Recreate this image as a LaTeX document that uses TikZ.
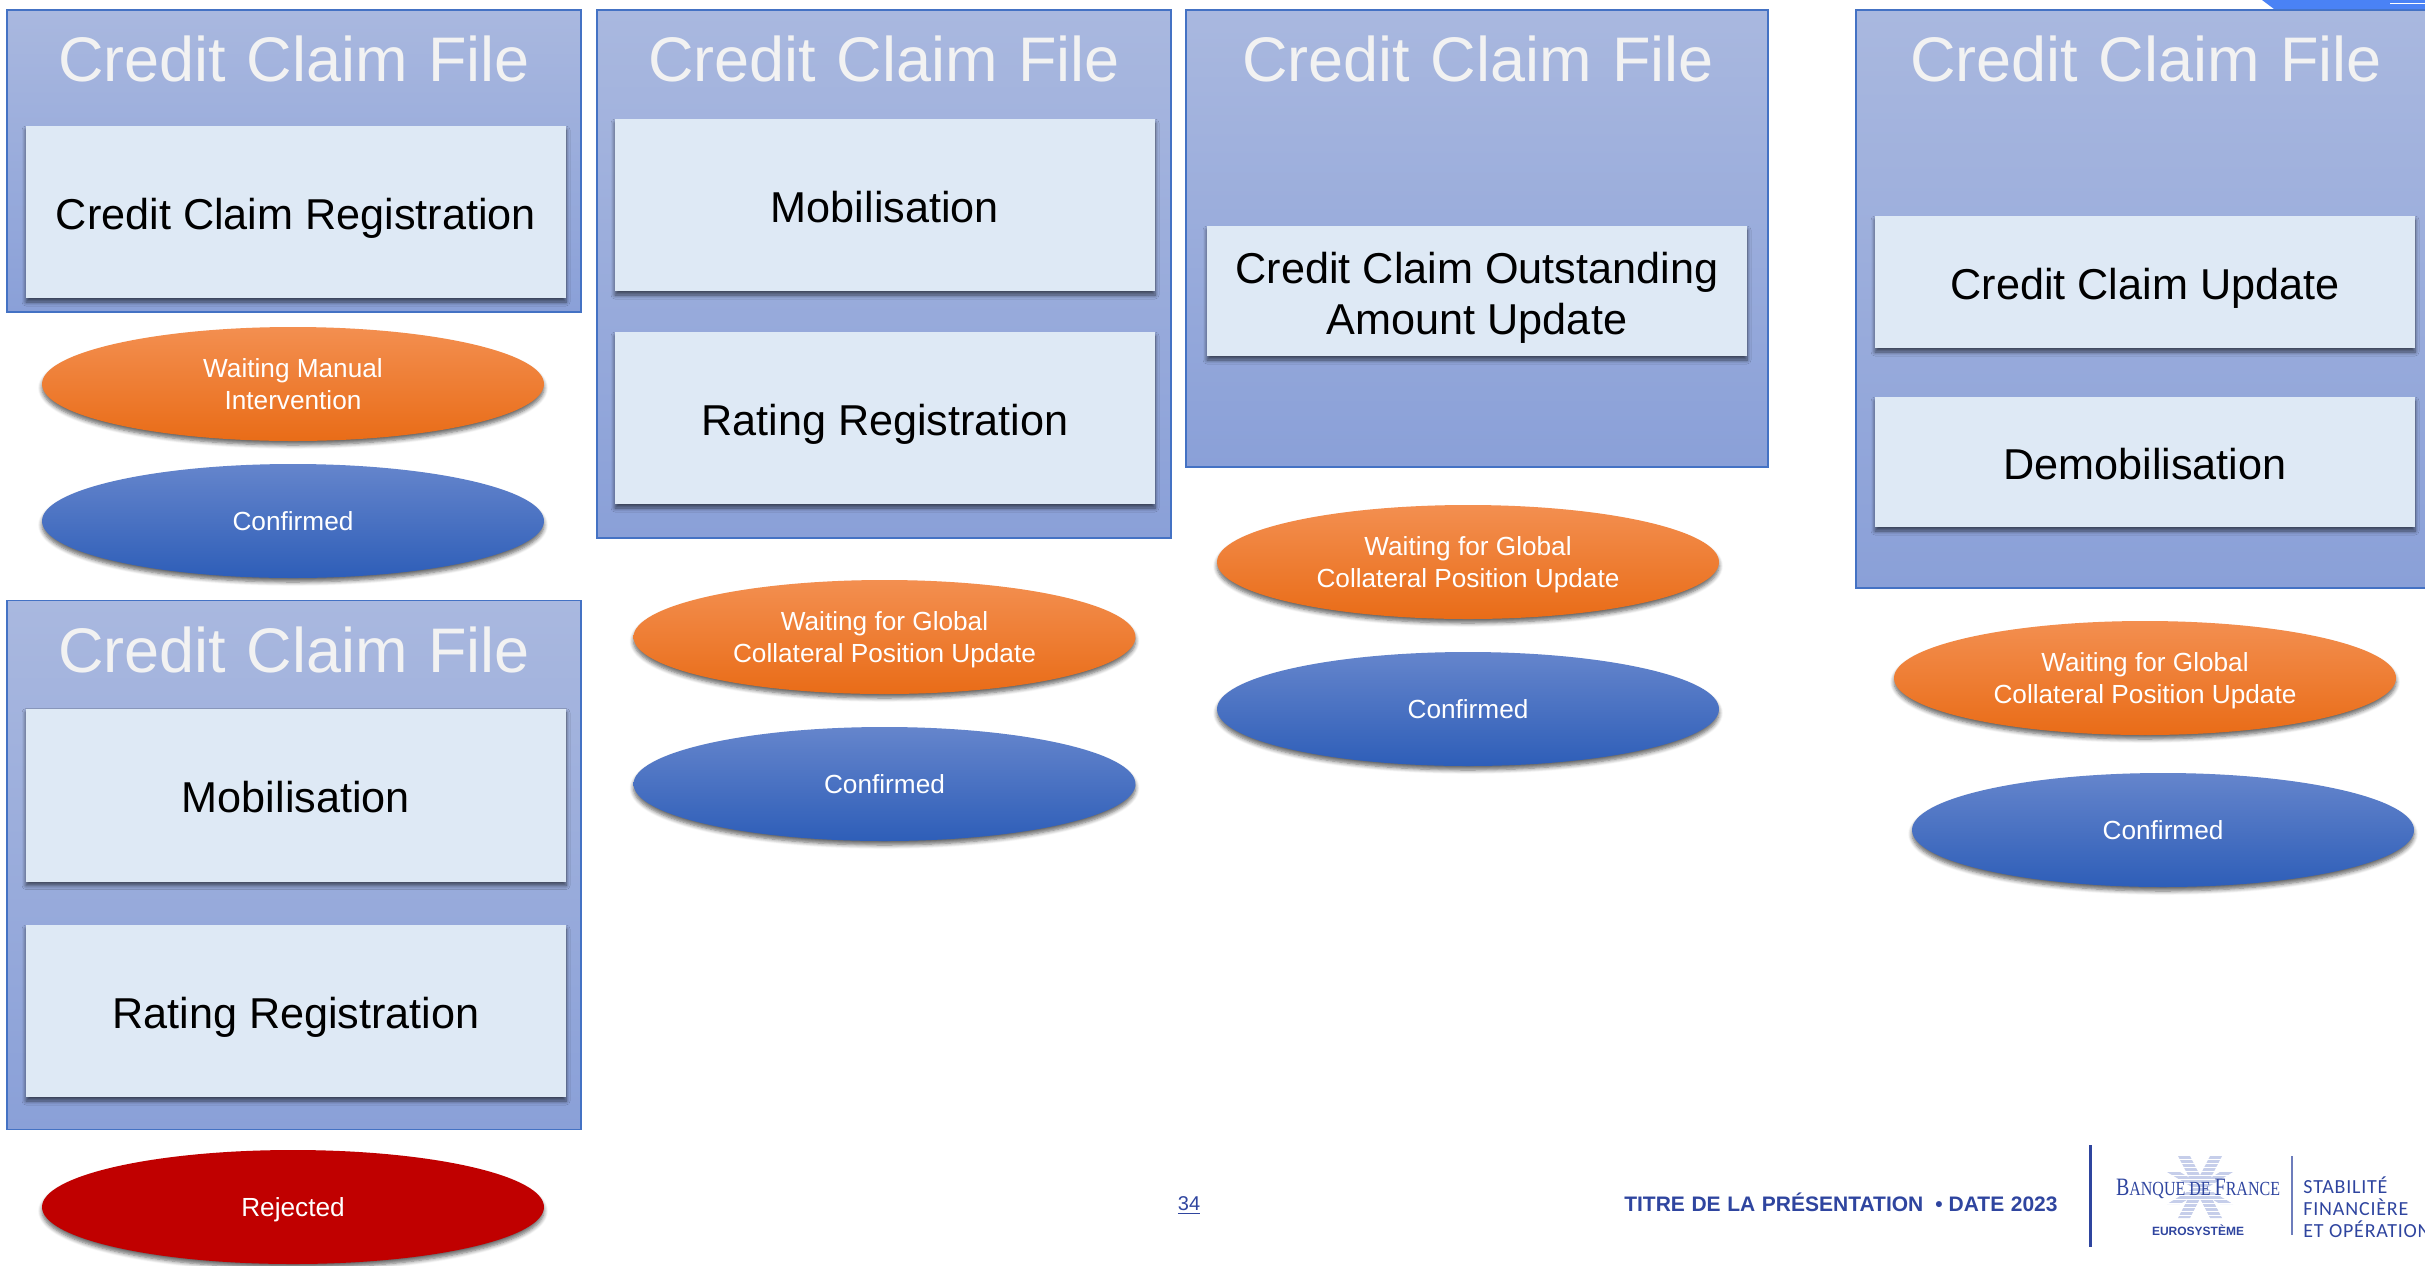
\documentclass[tikz,border=0pt]{standalone}
\usepackage{fontspec}
\setmainfont{Liberation Sans}
\newfontfamily\logofont[FakeStretch=0.8]{Liberation Serif}
\newfontfamily\sidefont[LetterSpace=4]{Carlito}
\newcommand{\titlefont}{\fontsize{31.5}{38}\selectfont\spaceskip=10.3pt\relax}
\newcommand{\footerfont}{\bfseries\fontsize{10.5}{12}\selectfont\spaceskip=3.3pt\relax}
\usepackage{xcolor}
\usetikzlibrary{shadows.blur,shapes.geometric}
\definecolor{panelline}{HTML}{4472C4}
\definecolor{paneltop}{HTML}{A9B8DF}
\definecolor{panelbot}{HTML}{8AA0D8}
\definecolor{stepfill}{HTML}{DEE9F5}
\definecolor{footblue}{HTML}{2F459F}
\definecolor{starblue}{HTML}{C6CEEA}
\definecolor{cornerblue}{HTML}{4A82F5}
\definecolor{orange1}{HTML}{F38F50}
\definecolor{orange2}{HTML}{F47B28}
\definecolor{orange3}{HTML}{E96C17}
\definecolor{blue1}{HTML}{6585CC}
\definecolor{blue2}{HTML}{4270CC}
\definecolor{blue3}{HTML}{2E5EB8}
\definecolor{redstate}{HTML}{C00000}
\tikzset{softshadow/.style={blur shadow={shadow xshift=0pt,shadow yshift=-2pt,shadow blur radius=2pt,shadow blur steps=6,shadow opacity=60}}}
\tikzset{
  panel/.style={rectangle,draw=panelline,line width=0.8pt,top color=paneltop,bottom color=panelbot,inner sep=0pt},
  paneltitle/.style={text=black!5,font=\titlefont},
  stepbox/.style={rectangle,fill=stepfill,softshadow,inner sep=0pt,align=center,text=black,text depth=0pt,text height=17.6pt,
    minimum width=270pt,font=\fontsize{21.6}{25.5}\selectfont},
  state/.style={ellipse,softshadow,inner sep=0pt,align=center,text=white,text depth=0pt,
    minimum width=251pt,minimum height=57pt,font=\fontsize{13.1}{16}\selectfont},
  waiting/.style={state,top color=orange1,middle color=orange2,bottom color=orange3},
  confirmed/.style={state,top color=blue1,middle color=blue2,bottom color=blue3},
  rejected/.style={state,fill=redstate},
  foot/.style={text=footblue,inner sep=0pt,text depth=0pt},
  sideline/.style={foot,anchor=west,font=\sidefont\fontsize{10}{12}\selectfont},
}

\begin{document}
\begin{tikzpicture}[x=0.5pt,y=-0.5pt]
\useasboundingbox (0,0) rectangle (2425,1265);
% top left file
\node (file1) [panel,minimum width=287pt,minimum height=151pt] at (294,161) {};
\node (title1) [paneltitle] at (294,59) {Credit Claim File};
\node (reg1) [stepbox,minimum height=86pt] at (296,212) {Credit Claim Registration};
\node (wait1) [waiting] at (293,384) {Waiting Manual\\Intervention};
\node (conf1) [confirmed] at (293,521) {Confirmed};
% bottom left file
\node (file2) [panel,minimum width=287pt,minimum height=264.5pt] at (294,865) {};
\node (title2) [paneltitle] at (294,650) {Credit Claim File};
\node (mob2) [stepbox,minimum height=86.5pt] at (296,795) {Mobilisation};
\node (rate2) [stepbox,minimum height=86pt] at (296,1011) {Rating Registration};
\node (rej2) [rejected] at (293,1207) {Rejected};
% second file
\node (file3) [panel,minimum width=287pt,minimum height=264pt] at (884,274) {};
\node (title3) [paneltitle] at (884,59) {Credit Claim File};
\node (mob3) [stepbox,minimum height=86pt] at (885,205) {Mobilisation};
\node (rate3) [stepbox,minimum height=86pt] at (885,418) {Rating Registration};
\node (wait3) [waiting] at (884.5,637) {Waiting for Global\\Collateral Position Update};
\node (conf3) [confirmed] at (884.5,784) {Confirmed};
% third file
\node (file4) [panel,minimum width=291pt,minimum height=228.5pt] at (1477,238.5) {};
\node (title4) [paneltitle] at (1478,59) {Credit Claim File};
\node (out4) [stepbox,text height=43pt,minimum height=65pt] at (1477,291) {Credit Claim Outstanding\\Amount Update};
\node (wait4) [waiting] at (1468,562) {Waiting for Global\\Collateral Position Update};
\node (conf4) [confirmed] at (1468,709) {Confirmed};
% fourth file, runs off the page
\node (file5) [panel,minimum width=300pt,minimum height=289pt] at (2156,299) {};
\node (title5) [paneltitle] at (2146,59) {Credit Claim File};
\node (upd5) [stepbox,minimum height=66pt] at (2145,282) {Credit Claim Update};
\node (demo5) [stepbox,minimum height=65pt] at (2145,462) {Demobilisation};
\node (wait5) [waiting] at (2145,678) {Waiting for Global\\Collateral Position Update};
\node (conf5) [confirmed] at (2163,830) {Confirmed};
% corner of the slide
\fill[cornerblue] (2262,0) -- (2425,0) -- (2425,9) -- (2274,9) -- cycle;
\draw[white,line width=0.5pt] (2390,3) -- (2425,3);
% footer
\node (page) [foot,font=\fontsize{10}{12}\selectfont] at (1189,1203) {\underline{34}};
\node (footer) [foot,anchor=east,font=\footerfont] at (2058,1202) {TITRE DE LA PRÉSENTATION\hspace{6pt}•\hspace{3pt}DATE 2023};
\draw[footblue,line width=1.5pt] (2090,1145) -- (2090,1247);
% logo
\fill[starblue] (2178,1156) -- (2190,1156) -- (2222,1218) -- (2210,1218) -- cycle;
\fill[starblue] (2222,1156) -- (2210,1156) -- (2178,1218) -- (2190,1218) -- cycle;
\fill[starblue] (2167,1172) -- (2180,1172) -- (2233,1204) -- (2220,1204) -- cycle;
\fill[starblue] (2233,1172) -- (2220,1172) -- (2167,1204) -- (2180,1204) -- cycle;
\foreach \yy in {1159,1163,1167,1171,1175,1179,1183,1187,1191,1195,1199,1203,1207,1211,1215}
  \draw[white,line width=0.4pt] (2160,\yy) -- (2240,\yy);
\node (bdf) [foot,font=\logofont\fontsize{10}{12}\selectfont] at (2198,1187) {{\fontsize{12.5}{12}\selectfont B}ANQUE DE {\fontsize{12.5}{12}\selectfont F}RANCE};
\node (euro) [foot,font=\bfseries\fontsize{6}{7}\selectfont] at (2198,1230) {EUROSYSTÈME};
\draw[footblue!70,line width=0.7pt] (2292,1156) -- (2292,1235);
\node (stab) [sideline] at (2303,1185) {STABILITÉ};
\node (fin) [sideline] at (2303,1207) {FINANCIÈRE};
\node (oper) [sideline] at (2303,1229) {ET OPÉRATION};
\end{tikzpicture}
\end{document}
